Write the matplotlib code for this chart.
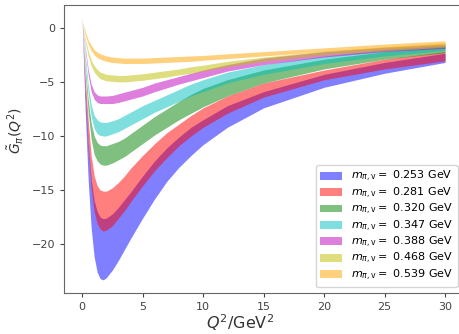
import numpy as np
import matplotlib
matplotlib.use("Agg")
import matplotlib.pyplot as plt

# Q^2 grid (GeV^2)
q2 = [0, 0.05, 0.1, 0.25, 0.5, 0.75, 1, 1.25, 1.5, 1.75, 2, 2.5, 3, 3.5, 4, 5, 6, 7, 8, 9, 10, 12, 15, 20, 25, 30]

masses = ["0.253", "0.281", "0.320", "0.347", "0.388", "0.468", "0.539"]
colors = ["blue", "red", "green", "c", "m", "y", "orange"]

# lower / upper edges of each band
blue_lo = [0.9, -0.8, -2.5, -7.5, -14.0, -18.5, -21.2, -22.6, -23.2, -23.3, -23.1, -22.4, -21.5, -20.5, -19.5, -17.6, -15.8, -14.2, -12.9, -11.8, -10.8, -9.2, -7.4, -5.5, -4.2, -3.2]
blue_hi = [0.9, -0.5, -1.8, -5.5, -10.5, -14.0, -16.0, -17.0, -17.5, -17.65, -17.6, -17.2, -16.6, -15.9, -15.2, -13.7, -12.3, -11.1, -10.1, -9.2, -8.5, -7.2, -5.9, -4.3, -3.2, -2.35]
red_lo = [0.9, -0.6, -2.0, -6.0, -11.0, -14.8, -17.0, -18.1, -18.6, -18.8, -18.7, -18.3, -17.6, -16.9, -16.1, -14.6, -13.2, -12.0, -10.9, -10.0, -9.2, -7.9, -6.4, -4.8, -3.8, -3.05]
red_hi = [0.9, -0.4, -1.5, -4.5, -8.5, -11.8, -13.7, -14.6, -15.0, -15.1, -15.1, -14.8, -14.3, -13.7, -13.0, -11.8, -10.7, -9.7, -8.9, -8.1, -7.4, -6.3, -5.1, -3.9, -2.9, -2.2]
green_lo = [0.9, -0.3, -1.2, -4.0, -7.8, -10.3, -11.7, -12.3, -12.6, -12.7, -12.7, -12.5, -12.2, -11.9, -11.5, -10.7, -9.9, -9.2, -8.5, -7.9, -7.3, -6.3, -5.1, -3.8, -2.9, -2.3]
green_hi = [0.9, -0.2, -1.0, -3.4, -6.6, -8.8, -10.0, -10.6, -10.85, -10.9, -10.9, -10.7, -10.5, -10.2, -9.8, -9.0, -8.2, -7.5, -6.8, -6.15, -5.6, -4.8, -3.9, -2.9, -2.2, -1.75]
cyan_lo = [0.9, -0.2, -0.9, -3.0, -6.0, -8.2, -9.3, -9.8, -9.95, -10.0, -10.0, -9.8, -9.6, -9.3, -9.0, -8.4, -7.8, -7.3, -6.8, -6.3, -5.9, -5.1, -4.3, -3.3, -2.6, -2.1]
cyan_hi = [0.9, -0.1, -0.7, -2.5, -5.2, -7.1, -8.1, -8.5, -8.7, -8.75, -8.75, -8.6, -8.4, -8.1, -7.8, -7.2, -6.7, -6.2, -5.7, -5.2, -4.8, -4.1, -3.4, -2.6, -2.0, -1.65]
mag_lo = [0.9, 0.0, -0.5, -2.0, -4.3, -5.9, -6.6, -6.9, -7.0, -7.0, -7.0, -7.0, -6.9, -6.75, -6.6, -6.3, -5.9, -5.55, -5.2, -4.9, -4.6, -4.0, -3.4, -2.7, -2.2, -1.9]
mag_hi = [0.9, 0.1, -0.3, -1.7, -3.8, -5.2, -5.9, -6.2, -6.3, -6.3, -6.3, -6.25, -6.1, -5.95, -5.8, -5.5, -5.1, -4.8, -4.5, -4.2, -3.9, -3.4, -2.8, -2.2, -1.8, -1.5]
yel_lo = [0.9, 0.2, -0.2, -1.2, -2.6, -3.5, -4.1, -4.45, -4.7, -4.8, -4.9, -4.95, -5.0, -5.0, -4.95, -4.85, -4.7, -4.55, -4.35, -4.2, -4.0, -3.6, -3.1, -2.5, -2.1, -1.8]
yel_hi = [0.9, 0.3, 0.0, -0.9, -2.1, -3.0, -3.5, -3.85, -4.1, -4.2, -4.3, -4.35, -4.4, -4.4, -4.35, -4.25, -4.1, -3.95, -3.8, -3.6, -3.45, -3.1, -2.7, -2.15, -1.75, -1.4]
ora_lo = [0.9, 0.4, 0.1, -0.6, -1.5, -2.1, -2.5, -2.75, -2.9, -3.0, -3.1, -3.2, -3.25, -3.3, -3.3, -3.3, -3.25, -3.2, -3.15, -3.1, -3.0, -2.85, -2.6, -2.2, -1.9, -1.6]
ora_hi = [0.9, 0.5, 0.3, -0.3, -1.1, -1.6, -2.0, -2.25, -2.4, -2.5, -2.6, -2.7, -2.75, -2.8, -2.8, -2.8, -2.75, -2.7, -2.65, -2.6, -2.55, -2.4, -2.2, -1.85, -1.5, -1.2]

lows = [blue_lo, red_lo, green_lo, cyan_lo, mag_lo, yel_lo, ora_lo]
highs = [blue_hi, red_hi, green_hi, cyan_hi, mag_hi, yel_hi, ora_hi]

plt.rcParams['font.family'] = ['DejaVu Sans']
fig = plt.figure(figsize=(4.6, 3.34), dpi=100)
ax = fig.add_axes([0.139, 0.123, 0.868, 0.862])

for lo, hi, c, m in zip(lows, highs, colors, masses):
    ax.fill_between(q2, lo, hi, color=c, alpha=0.5, linewidth=0,
                    label=r"$m_{\pi,\mathrm{v}} = $ " + m + " GeV")

ax.set_xlabel(r"$Q^2/\mathrm{GeV}^2$", fontsize=11.5, color="#333333")
ax.set_ylabel(r"$\tilde{G}_\pi(Q^2)$", fontsize=10, color="#333333")
ax.xaxis.set_label_coords(0.44, -0.066)
ax.yaxis.set_label_coords(-0.095, 0.566)
ax.set_xticks([0, 5, 10, 15, 20, 25, 30])
ax.set_yticks([0, -5, -10, -15, -20])
ax.tick_params(labelsize=8, colors="#444444", length=3)
for s in ax.spines.values():
    s.set_color("#666666")

ax.legend(loc="lower right", fontsize=8, framealpha=0.8, edgecolor="#cccccc",
          handlelength=2.0, labelspacing=0.12, borderpad=0.4)

fig.savefig("out.png", dpi=100)
